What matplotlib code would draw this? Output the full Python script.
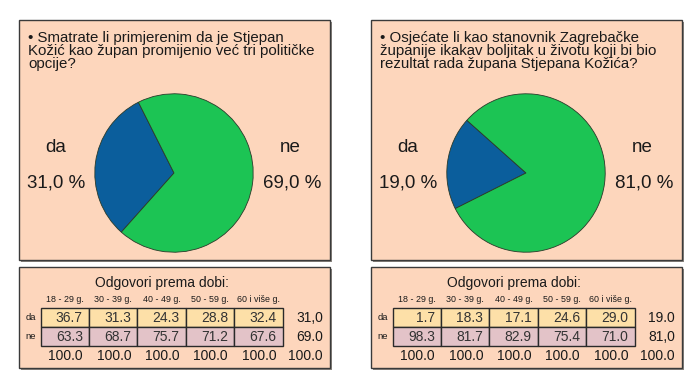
import matplotlib.pyplot as plt
from matplotlib.patches import Rectangle

plt.rcParams['font.family'] = ['Liberation Sans', 'DejaVu Sans']

# podaci
pitanja = [
    ['• Smatrate li primjerenim da je Stjepan',
     'Kožić kao župan promijenio već tri političke',
     'opcije?'],
    ['• Osjećate li kao stanovnik Zagrebačke',
     'županije ikakav boljitak u životu koji bi bio',
     'rezultat rada župana Stjepana Kožića?'],
]
odgovori = ['da', 'ne']
udio_da = [31.0, 19.0]
udio_ne = [69.0, 81.0]
dobne_skupine = ['18 - 29 g.', '30 - 39 g.', '40 - 49 g.', '50 - 59 g.', '60 i više g.']
da_po_dobi = [[36.7, 31.3, 24.3, 28.8, 32.4],
              [1.7, 18.3, 17.1, 24.6, 29.0]]
ne_po_dobi = [[63.3, 68.7, 75.7, 71.2, 67.6],
              [98.3, 81.7, 82.9, 75.4, 71.0]]
ukupno = [['31,0', '69.0', '100.0'],
          ['19.0', '81,0', '100.0']]

plava = '#0b5e9c'
zelena = '#1cc454'
pozadina = '#fdd6bc'
zuta = '#fde0a8'
roza = '#e3c3c8'
tekst = '#1a1a1a'

W, H = 700, 392
fig = plt.figure(figsize=(7, 3.92), dpi=100)
ax = fig.add_axes([0, 0, 1, 1])
ax.set_xlim(0, W)
ax.set_ylim(H, 0)
ax.axis('off')


def okvir(x0, y0, x1, y1):
    ax.add_patch(Rectangle((x0 + 2, y0 + 2), x1 - x0, y1 - y0, fc='#8a8580', ec='none', zorder=1))
    ax.add_patch(Rectangle((x0, y0), x1 - x0, y1 - y0, fc=pozadina, ec='#3a3a3a', lw=1, zorder=2))


for k, lijevo in enumerate([19, 371]):
    # gornji panel s pitanjem i pitom
    okvir(lijevo, 20, lijevo + 311, 260)
    for i, red in enumerate(pitanja[k]):
        ax.text(lijevo + 9, 38 + 13 * i, red, fontsize=10.8, color=tekst,
                ha='left', va='center', zorder=3)

    cx, cy, r = lijevo + 155, 173, 80
    pax = fig.add_axes([(cx - r) / W, (H - cy - r) / H, 2 * r / W, 2 * r / H])
    start = 172.5 - 3.6 * udio_da[k] / 2
    pax.pie([udio_da[k], udio_ne[k]], colors=[plava, zelena], startangle=start,
            counterclock=True, radius=1,
            wedgeprops=dict(edgecolor='#2a3a2a', linewidth=0.6))
    pax.set_xlim(-1.01, 1.01)
    pax.set_ylim(-1.01, 1.01)
    pax.set_aspect('equal')
    pax.patch.set_alpha(0)

    ax.text(lijevo + 37, 147, 'da', fontsize=13.5, ha='center', va='center', color=tekst, zorder=3)
    ax.text(lijevo + 37, 183, f'{udio_da[k]:.1f}'.replace('.', ',') + ' %', fontsize=13.5,
            ha='center', va='center', color=tekst, zorder=3)
    ax.text(lijevo + 271, 147, 'ne', fontsize=13.5, ha='center', va='center', color=tekst, zorder=3)
    ax.text(lijevo + 273, 183, f'{udio_ne[k]:.1f}'.replace('.', ',') + ' %', fontsize=13.5,
            ha='center', va='center', color=tekst, zorder=3)

    # donji panel s tablicom
    okvir(lijevo, 267, lijevo + 311, 368)
    ax.text(lijevo + 143, 283, 'Odgovori prema dobi:', fontsize=10, ha='center', va='center',
            color=tekst, zorder=3)
    tx0 = lijevo + 21.5
    sirina = 48.4
    redovi = [(308, 327, zuta, da_po_dobi[k]), (327, 346, roza, ne_po_dobi[k])]
    for j, skupina in enumerate(dobne_skupine):
        ax.text(tx0 + sirina * (j + 0.5), 299, skupina, fontsize=6.4, ha='center', va='center',
                color=tekst, zorder=3)
    for n, (y0, y1, boja, vrijednosti) in enumerate(redovi):
        ax.text(lijevo + 12, (y0 + y1) / 2, odgovori[n], fontsize=6.8, ha='center', va='center',
                color=tekst, zorder=3)
        for j, v in enumerate(vrijednosti):
            ax.add_patch(Rectangle((tx0 + sirina * j, y0), sirina, y1 - y0, fc=boja,
                                   ec='#2a2a2a', lw=1, zorder=3))
            ax.text(tx0 + sirina * (j + 1) - 6, (y0 + y1) / 2 + 0.5, f'{v:.1f}', fontsize=10,
                    ha='right', va='center', color='#333333', zorder=4)
        ax.text(lijevo + 304, (y0 + y1) / 2 + 0.5, ukupno[k][n], fontsize=10, ha='right',
                va='center', color=tekst, zorder=4)
    for j in range(5):
        ax.text(tx0 + sirina * (j + 1) - 6, 356, '100.0', fontsize=10, ha='right', va='center',
                color=tekst, zorder=4)
    ax.text(lijevo + 304, 356, ukupno[k][2], fontsize=10, ha='right', va='center',
            color=tekst, zorder=4)

fig.savefig('out.png', dpi=100)
